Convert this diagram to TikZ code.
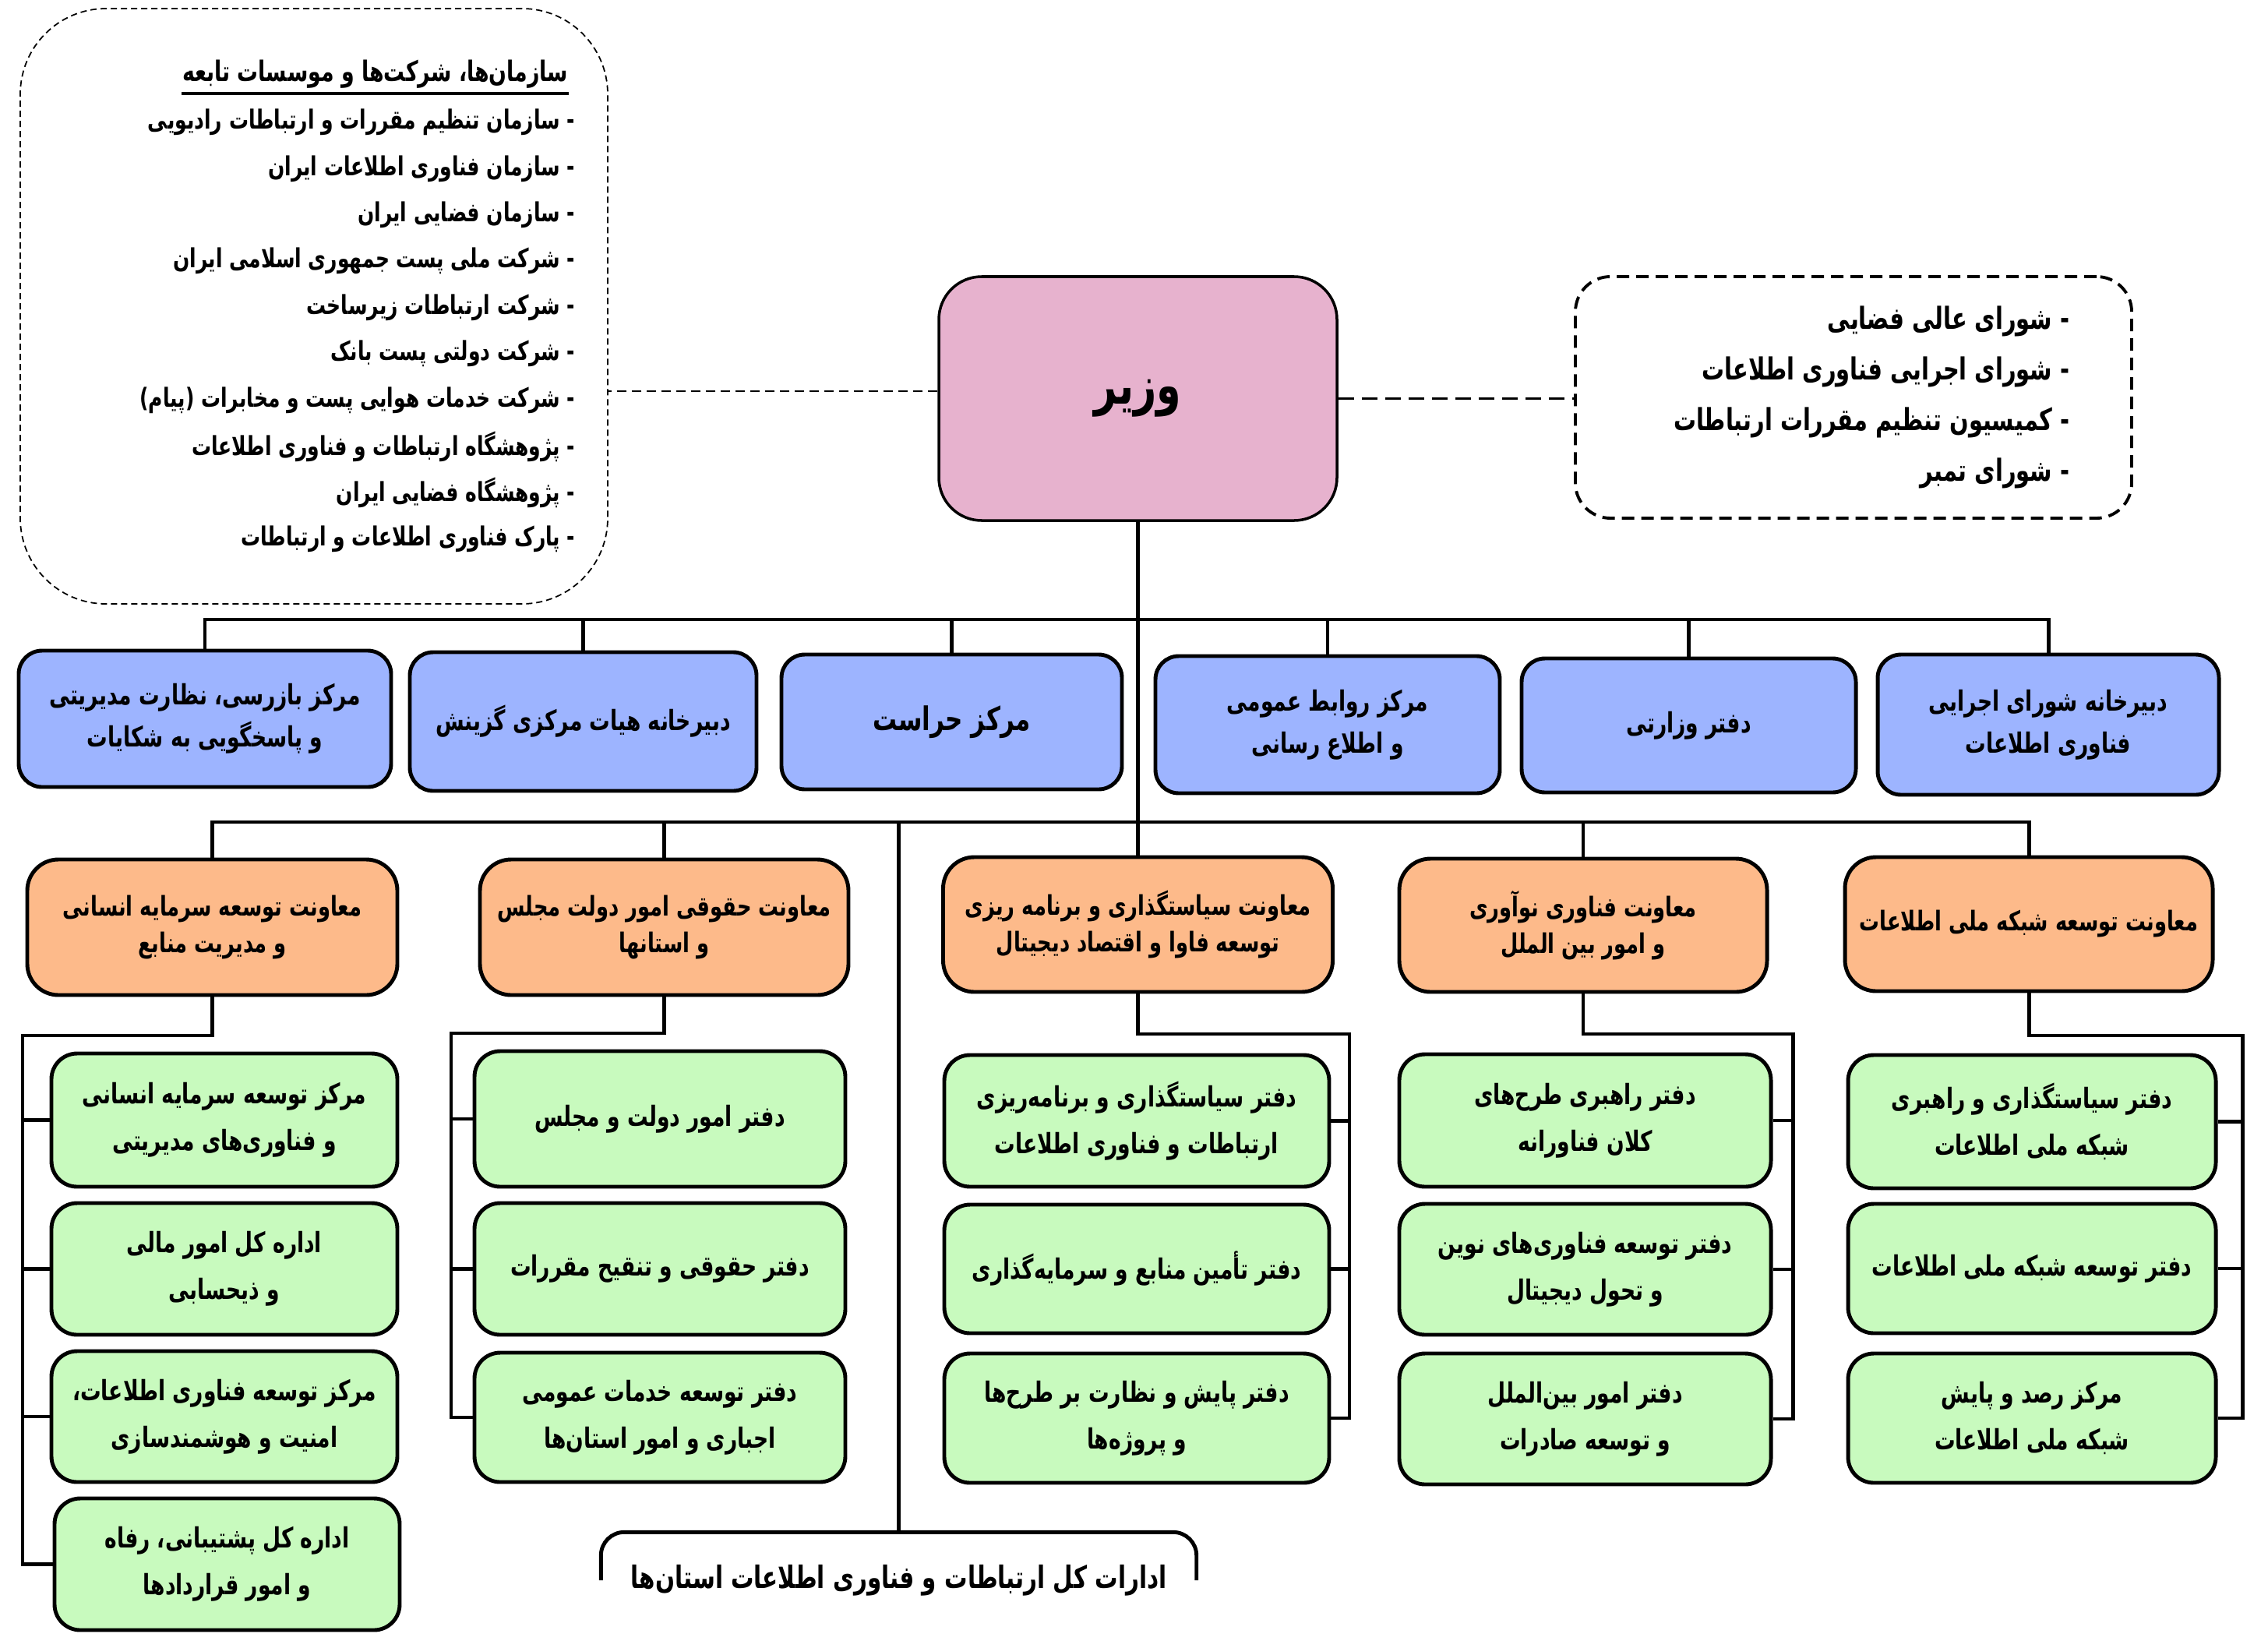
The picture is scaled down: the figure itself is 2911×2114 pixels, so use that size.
\documentclass[tikz,border=0pt]{standalone}
\usepackage{fontspec}
\newfontfamily\fa[Script=Arabic,FakeStretch=0.74]{DejaVu Sans}
\TeXXeTstate=1
\newcommand\pl[1]{\beginR #1\endR}
\definecolor{vzpink}{HTML}{E7B2CE}
\definecolor{boxblue}{HTML}{9DB4FF}
\definecolor{boxorange}{HTML}{FDBA8A}
\definecolor{boxgreen}{HTML}{C8FABE}
\tikzset{
  sz/.style 2 args={minimum width={#1*0.1mm}, minimum height={#2*0.1mm}},
  box/.style={draw, line width=1.4pt, align=center, inner sep=0pt},
  bluebox/.style={box, fill=boxblue, rounded corners=3mm, font=\fa\bfseries\fontsize{10.2}{15.5}\selectfont},
  orangebox/.style={box, fill=boxorange, rounded corners=4mm, font=\fa\bfseries\fontsize{9.9}{13.5}\selectfont},
  greenbox/.style={box, fill=boxgreen, rounded corners=3.3mm, font=\fa\bfseries\fontsize{10.2}{17}\selectfont},
  conn/.style={line width=1.4pt},
  listtxt/.style={anchor=east, inner sep=0pt, font=\fa\bfseries\fontsize{9.6}{11}\selectfont},
  rlisttxt/.style={anchor=east, inner sep=0pt, font=\fa\bfseries\fontsize{11.1}{13}\selectfont},
  dashL/.style={line width=0.8pt, dash pattern=on 1.2mm off 0.7mm},
  dashR/.style={line width=1.1pt, dash pattern=on 2mm off 1mm},
}
\begin{document}
\begin{tikzpicture}[x=0.1mm,y=-0.1mm]
\useasboundingbox (0,0) rectangle (2911,2114);
\fill[white] (0,0) rectangle (2911,2114);

% ---- left dashed box
\node[draw, line width=0.5pt, dash pattern=on 0.8mm off 0.5mm, rounded corners=11mm, sz={754}{764}] (lb) at (403,393) {};
\node[listtxt, font=\fa\bfseries\fontsize{10.3}{12}\selectfont] (lt) at (730,95) {\pl{سازمان^^^^200cها، شرکت^^^^200cها و موسسات تابعه}};
\draw[line width=1pt] ([yshift=-0.6mm]lt.south west) -- ([yshift=-0.6mm]lt.south east);
\node[listtxt] (l1) at (739,157) {\pl{- سازمان تنظیم مقررات و ارتباطات رادیویی}};
\node[listtxt] (l2) at (739,216.4) {\pl{- سازمان فناوری اطلاعات ایران}};
\node[listtxt] (l3) at (739,275.8) {\pl{- سازمان فضایی ایران}};
\node[listtxt] (l4) at (739,335.2) {\pl{- شرکت ملی پست جمهوری اسلامی ایران}};
\node[listtxt] (l5) at (739,394.6) {\pl{- شرکت ارتباطات زیرساخت}};
\node[listtxt] (l6) at (739,454) {\pl{- شرکت دولتی پست بانک}};
\node[listtxt] (l7) at (739,513.4) {\pl{- شرکت خدمات هوایی پست و مخابرات (پیام)}};
\node[listtxt] (l8) at (739,572.8) {\pl{- پژوهشگاه ارتباطات و فناوری اطلاعات}};
\node[listtxt] (l9) at (739,632.2) {\pl{- پژوهشگاه فضایی ایران}};
\node[listtxt] (l10) at (739,691.6) {\pl{- پارک فناوری اطلاعات و ارتباطات}};

% ---- minister
\node[box, line width=1pt, fill=vzpink, rounded corners=5.5mm, sz={511}{313}, font=\fa\bfseries\fontsize{19.5}{23}\selectfont] (vz) at (1460.5,511.5) {\pl{وزیر}};

% ---- right dashed box
\node[draw, line width=1.1pt, dash pattern=on 1.6mm off 0.9mm, rounded corners=4.5mm, sz={714}{310}] (rb) at (2379,510) {};
\node[rlisttxt] (r1t) at (2657,412) {\pl{- شورای عالی فضایی}};
\node[rlisttxt] (r2t) at (2657,477) {\pl{- شورای اجرایی فناوری اطلاعات}};
\node[rlisttxt] (r3t) at (2657,542) {\pl{- کمیسیون تنظیم مقررات ارتباطات}};
\node[rlisttxt] (r4t) at (2657,607) {\pl{- شورای تمبر}};

% dashed links
\coordinate (lk) at ([yshift=0.95mm]vz.west);
\draw[dashL] (lk) -- (lk -| lb.east);
\draw[dashR] (vz.east) -- (vz.east -| rb.west);

% ---- blue row
\node[bluebox, sz={478}{175}] (B1) at (263,922.5) {\pl{مرکز بازرسی، نظارت مدیریتی}\\\pl{و پاسخگویی به شکایات}};
\node[bluebox, sz={445}{178}] (B2) at (748.5,926) {\pl{دبیرخانه هیات مرکزی گزینش}};
\node[bluebox, sz={437}{173}, font=\fa\bfseries\fontsize{11.9}{15.5}\selectfont] (B3) at (1221.5,926.5) {\pl{مرکز حراست}};
\node[bluebox, sz={442}{176}] (B4) at (1704,930) {\pl{مرکز روابط عمومی}\\\pl{و اطلاع رسانی}};
\node[bluebox, sz={429}{172}] (B5) at (2167.5,931) {\pl{دفتر وزارتی}};
\node[bluebox, sz={438}{180}] (B6) at (2629,930) {\pl{دبیرخانه شورای اجرایی}\\\pl{فناوری اطلاعات}};

% ---- orange row
\node[orangebox, sz={475}{174}] (O1) at (272.5,1190) {\pl{معاونت توسعه سرمایه انسانی}\\\pl{و مدیریت منابع}};
\node[orangebox, sz={473}{174}] (O2) at (852.5,1190) {\pl{معاونت حقوقی امور دولت مجلس}\\\pl{و استانها}};
\node[orangebox, sz={500}{173}] (O3) at (1460.5,1186.5) {\pl{معاونت سیاستگذاری و برنامه ریزی}\\\pl{توسعه فاوا و اقتصاد دیجیتال}};
\node[orangebox, sz={472}{171}] (O4) at (2032,1187.5) {\pl{معاونت فناوری نوآوری}\\\pl{و امور بین الملل}};
\node[orangebox, sz={472}{172}] (O5) at (2604,1186) {\pl{معاونت توسعه شبکه ملی اطلاعات}};

% ---- green column 1
\node[greenbox, sz={444}{171}] (G11) at (288,1437.5) {\pl{مرکز توسعه سرمایه انسانی}\\\pl{و فناوری^^^^200cهای مدیریتی}};
\node[greenbox, sz={444}{169}] (G12) at (288,1628.5) {\pl{اداره کل امور مالی}\\\pl{و ذیحسابی}};
\node[greenbox, sz={444}{168}] (G13) at (288,1818) {\pl{مرکز توسعه فناوری اطلاعات،}\\\pl{امنیت و هوشمندسازی}};
\node[greenbox, sz={443}{169}] (G14) at (291.5,2007.5) {\pl{اداره کل پشتیبانی، رفاه}\\\pl{و امور قراردادها}};
% ---- green column 2
\node[greenbox, sz={476}{174}] (G21) at (847,1436) {\pl{دفتر امور دولت و مجلس}};
\node[greenbox, sz={476}{169}] (G22) at (847,1628.5) {\pl{دفتر حقوقی و تنقیح مقررات}};
\node[greenbox, sz={476}{166}] (G23) at (847,1819) {\pl{دفتر توسعه خدمات عمومی}\\\pl{اجباری و امور استان^^^^200cها}};
% ---- green column 3
\node[greenbox, sz={494}{169}] (G31) at (1459,1438.5) {\pl{دفتر سیاستگذاری و برنامه^^^^200cریزی}\\\pl{ارتباطات و فناوری اطلاعات}};
\node[greenbox, sz={494}{165}] (G32) at (1459,1628.5) {\pl{دفتر تأمین منابع و سرمایه^^^^200cگذاری}};
\node[greenbox, sz={494}{166}] (G33) at (1459,1820) {\pl{دفتر پایش و نظارت بر طرح^^^^200cها}\\\pl{و پروژه^^^^200cها}};
% ---- green column 4
\node[greenbox, sz={477}{170}] (G41) at (2034.5,1438) {\pl{دفتر راهبری طرح^^^^200cهای}\\\pl{کلان فناورانه}};
\node[greenbox, sz={477}{168}] (G42) at (2034.5,1629) {\pl{دفتر توسعه فناوری^^^^200cهای نوین}\\\pl{و تحول دیجیتال}};
\node[greenbox, sz={477}{168}] (G43) at (2034.5,1821) {\pl{دفتر امور بین^^^^200cالملل}\\\pl{و توسعه صادرات}};
% ---- green column 5
\node[greenbox, sz={472}{171}] (G51) at (2608,1439.5) {\pl{دفتر سیاستگذاری و راهبری}\\\pl{شبکه ملی اطلاعات}};
\node[greenbox, sz={472}{166}] (G52) at (2608,1628) {\pl{دفتر توسعه شبکه ملی اطلاعات}};
\node[greenbox, sz={472}{166}] (G53) at (2608,1820) {\pl{مرکز رصد و پایش}\\\pl{شبکه ملی اطلاعات}};

% ---- provincial offices
\node[inner sep=0pt, sz={763}{122}, font=\fa\bfseries\fontsize{11.3}{13}\selectfont] (prov) at (1153.5,2028) {\pl{ادارات کل ارتباطات و فناوری اطلاعات استان^^^^200cها}};
\draw[conn, rounded corners=3mm] (prov.west) -- (prov.north west) -- (prov.north east) -- (prov.east);

% ---- connectors
\coordinate (busB) at (1460,795);
\coordinate (busO) at (1460,1055);
\draw[conn] (vz.south) -- (O3.north);
\draw[conn] (B1.north) -- (B1.north |- busB) -- (B6.north |- busB) -- (B6.north);
\foreach \n in {B2,B3,B4,B5} \draw[conn] (\n.north) -- (\n.north |- busB);
\draw[conn] (O1.north) -- (O1.north |- busO) -- (O5.north |- busO) -- (O5.north);
\foreach \n in {O2,O4} \draw[conn] (\n.north) -- (\n.north |- busO);
\draw[conn] (prov.north |- busO) -- (prov.north);

\coordinate (c1) at (29,1329);
\draw[conn] (O1.south) |- (c1) -- (c1 |- G14.west) -- (G14.west);
\foreach \n in {G11,G12,G13} \draw[conn] (c1 |- \n.west) -- (\n.west);
\coordinate (c2) at (579,1326);
\draw[conn] (O2.south) |- (c2) -- (c2 |- G23.west) -- (G23.west);
\foreach \n in {G21,G22} \draw[conn] (c2 |- \n.west) -- (\n.west);
\coordinate (c3) at (1732,1327);
\draw[conn] (O3.south) |- (c3) -- (c3 |- G33.east) -- (G33.east);
\foreach \n in {G31,G32} \draw[conn] (c3 |- \n.east) -- (\n.east);
\coordinate (c4) at (2301,1327);
\draw[conn] (O4.south) |- (c4) -- (c4 |- G43.east) -- (G43.east);
\foreach \n in {G41,G42} \draw[conn] (c4 |- \n.east) -- (\n.east);
\coordinate (c5) at (2878,1329);
\draw[conn] (O5.south) |- (c5) -- (c5 |- G53.east) -- (G53.east);
\foreach \n in {G51,G52} \draw[conn] (c5 |- \n.east) -- (\n.east);
\end{tikzpicture}
\end{document}
